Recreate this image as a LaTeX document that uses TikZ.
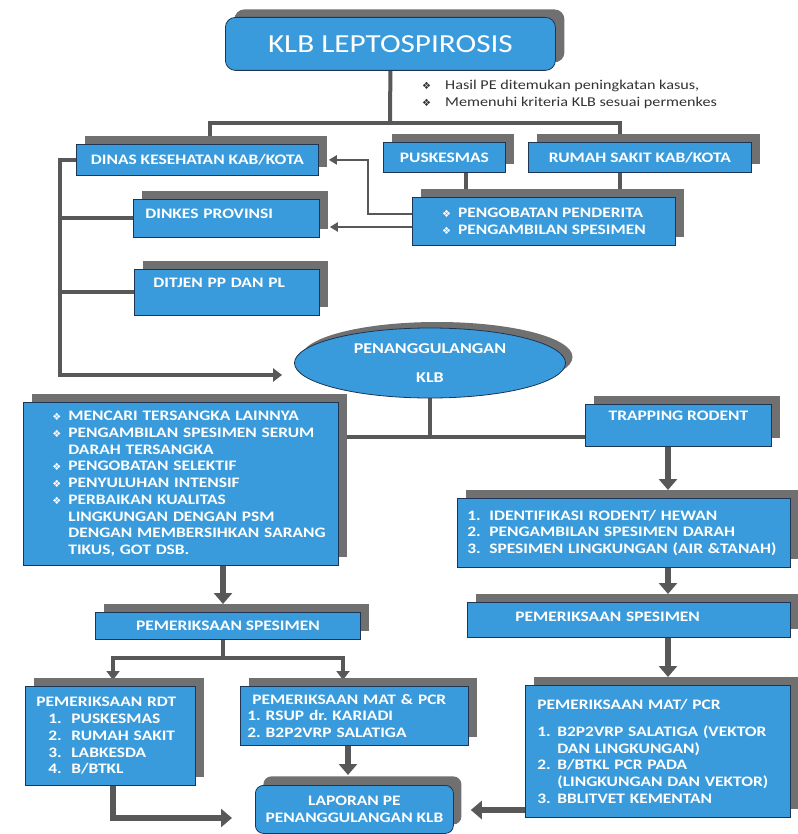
\documentclass[tikz,border=0pt]{standalone}
\usepackage{fontspec}
\setmainfont{Carlito}[FakeStretch=1.2]
\newfontfamily\dingfont{DejaVu Sans}
\usetikzlibrary{shapes.geometric,shadows,arrows.meta,calc,backgrounds}

\definecolor{boxblue}{RGB}{57,155,219}
\definecolor{boxline}{RGB}{30,52,84}
\definecolor{shadowgray}{RGB}{112,112,112}
\definecolor{linegray}{RGB}{88,88,88}
\definecolor{textgray}{RGB}{50,50,50}

\newcommand{\bul}[1][16pt]{\makebox[#1][l]{\dingfont\fontsize{10}{10}\selectfont\raisebox{.3pt}{❖}}}
\newcommand{\itemno}[2][20pt]{\makebox[#1][l]{#2.}}
\newcommand{\ind}{\hspace*{23pt}}
\frenchspacing

\begin{document}
\begin{tikzpicture}[x=1pt,y=-1pt,
  base/.style={draw=boxline,line width=.8pt,fill=boxblue,text=white,anchor=north west,
    inner sep=4pt,font=\fontsize{14.5}{16.7}\selectfont\bfseries},
  box/.style={base,drop shadow={shadow xshift=9pt,shadow yshift=8pt,fill=shadowgray,opacity=1}},
  listbox/.style={box,align=left},
  oval/.style={ellipse,draw=boxline,line width=.8pt,fill=boxblue,text=white,inner sep=0,
    align=center,font=\fontsize{15}{16}\selectfont\bfseries,
    drop shadow={shadow xshift=7pt,shadow yshift=6pt,fill=shadowgray,opacity=1}},
  conn/.style={draw=linegray,line width=4pt},
  thinarrow/.style={draw=linegray,line width=2.5pt,-{Triangle[width=9pt,length=8pt]}},
  midarrow/.style={conn,-{Triangle[width=13pt,length=9pt]}},
  bigarrow/.style={draw=linegray,line width=5.5pt,-{Triangle[width=18pt,length=11pt]}}]

\useasboundingbox (0,0) rectangle (797,834);

\node[box,rounded corners=10pt,minimum width=330pt,minimum height=53pt,
  font=\fontsize{26}{28}\selectfont] (klb) at (225,17) {KLB LEPTOSPIROSIS};
\node[anchor=north west,inner sep=0,align=left,text=textgray,
  font=\fontsize{13.5}{17}\selectfont] (hasil) at (422,80)
  {\bul[23pt]Hasil PE ditemukan peningkatan kasus,\\\bul[23pt]Memenuhi kriteria KLB sesuai permenkes};

\node[box,minimum width=242pt,minimum height=31pt] (dinas) at (76,144) {DINAS KESEHATAN KAB/KOTA};
\node[box,minimum width=122pt,minimum height=30pt] (pusk) at (383,142) {PUSKESMAS};
\node[box,minimum width=223pt,minimum height=30pt] (rs) at (528,142) {RUMAH SAKIT KAB/KOTA};
\node[listbox,minimum width=263pt,minimum height=48pt] (obat) at (412,197)
  {\bul PENGOBATAN PENDERITA\\\bul PENGAMBILAN SPESIMEN};
\node[listbox,inner xsep=12pt,text width=162pt,text height=15pt,text depth=15pt] (dinkes) at (133,199) {DINKES PROVINSI};
\node[listbox,inner xsep=19pt,text width=147pt,text height=14pt,text depth=24pt] (ditjen) at (134,269) {DITJEN PP DAN PL};

\node[oval,minimum width=271pt,minimum height=70pt] (pen) at (430,363) {PENANGGULANGAN\\[13pt]KLB};

\node[listbox,inner xsep=6pt,text width=303pt,minimum height=163pt] (tindak) at (23,402)
  {\ind\bul MENCARI TERSANGKA LAINNYA\\
  \ind\bul PENGAMBILAN SPESIMEN SERUM\\
  \ind\hspace*{16pt}DARAH TERSANGKA\\
  \ind\bul PENGOBATAN SELEKTIF\\
  \ind\bul PENYULUHAN INTENSIF\\
  \ind\bul PERBAIKAN KUALITAS\\
  \ind\hspace*{16pt}LINGKUNGAN DENGAN PSM\\
  \ind\hspace*{16pt}DENGAN MEMBERSIHKAN SARANG\\
  \ind\hspace*{16pt}TIKUS, GOT DSB.};
\node[box,minimum width=186pt,text height=12pt,text depth=22pt] (trap) at (585,404) {TRAPPING RODENT};
\node[listbox,inner xsep=10pt,text width=313pt,minimum height=69pt] (ident) at (457,498)
  {\itemno[22pt]{1}IDENTIFIKASI RODENT/ HEWAN\\
  \itemno[22pt]{2}PENGAMBILAN SPESIMEN DARAH\\
  \itemno[22pt]{3}SPESIMEN LINGKUNGAN (AIR \&TANAH)};
\node[listbox,inner xsep=48pt,text width=227pt,text height=15pt,text depth=12pt] (periksaR) at (467,602) {PEMERIKSAAN SPESIMEN};
\node[listbox,inner xsep=12pt,text width=241pt,minimum height=132pt] (matR) at (525,685)
  {PEMERIKSAAN MAT/ PCR\\[10pt]
  \itemno{1}B2P2VRP SALATIGA (VEKTOR\\
  \hspace*{20pt}DAN LINGKUNGAN)\\
  \itemno{2}B/BTKL PCR PADA\\
  \hspace*{20pt}(LINGKUNGAN DAN VEKTOR)\\
  \itemno{3}BBLITVET KEMENTAN};

\node[box,minimum width=265pt,minimum height=27pt] (periksaL) at (95,612) {PEMERIKSAAN SPESIMEN};
\node[listbox,inner xsep=11pt,text width=148pt,minimum height=99pt] (rdt) at (25,686)
  {PEMERIKSAAN RDT\\
  \hspace*{12pt}\itemno[23pt]{1}PUSKESMAS\\
  \hspace*{12pt}\itemno[23pt]{2}RUMAH SAKIT\\
  \hspace*{12pt}\itemno[23pt]{3}LABKESDA\\
  \hspace*{12pt}\itemno[23pt]{4}B/BTKL};
\node[listbox,inner xsep=7pt,text width=214pt,minimum height=59pt] (matL) at (240,686)
  {\hspace*{5pt}PEMERIKSAAN MAT \& PCR\\
  1. RSUP dr. KARIADI\\
  2. B2P2VRP SALATIGA};
\node[base,rounded corners=8pt,minimum width=198pt,minimum height=48pt,align=center,
  drop shadow={shadow xshift=8pt,shadow yshift=9pt,fill=shadowgray,opacity=1}] (lapor) at (255,785)
  {LAPORAN PE\\PENANGGULANGAN KLB};

\coordinate (jTop) at (390,123);
\coordinate (jDinas) at (210,123);
\coordinate (jRs) at (620,123);
\coordinate (xP) at (466,0);
\coordinate (bend) at (368,214);
\coordinate (yDk) at (0,227);
\coordinate (spine) at (60,375);
\coordinate (jMid) at (430,437);
\coordinate (xA) at (668,0);
\coordinate (xS) at (223,658);
\coordinate (jRdt) at (113,658);
\coordinate (jMat) at (343,658);
\coordinate (xM) at (348,0);
\coordinate (yQ) at (0,818);
\coordinate (yR) at (0,810);

\begin{scope}[on background layer]
\draw[conn] (klb.south) -- (jTop);
\draw[conn] (dinas.north -| jDinas) -- (jDinas) -- (jRs) -- (rs.north -| jRs);
\draw[conn] (pusk.south -| xP) -- (obat.north -| xP);
\draw[conn] (rs.south -| jRs) -- (obat.north -| jRs);
\draw[thinarrow] (obat.west |- bend) -- (bend) |- ($(dinas.east)+(10,0)$);
\draw[thinarrow] (obat.west |- yDk) -- ($(dinkes.east |- yDk)+(10,0)$);

\draw[midarrow] (dinas.west) -| (spine) -- ($(pen.west |- spine)+(-12,0)$);
\draw[conn] (spine |- dinkes.west) -- (dinkes.west);
\draw[conn] (spine |- ditjen.west) -- (ditjen.west);

\draw[conn] (pen.south) -- (jMid);
\draw[conn] (tindak.east |- jMid) -- (trap.west |- jMid);
\draw[bigarrow] (trap.south -| xA) -- ($(ident.north -| xA)+(0,-8)$);
\draw[bigarrow] (ident.south -| xA) -- ($(periksaR.north -| xA)+(0,-8)$);
\draw[bigarrow] (periksaR.south -| xA) -- ($(matR.north -| xA)+(0,-8)$);

\draw[bigarrow] (tindak.south -| xS) -- ($(periksaL.north -| xS)+(0,-8)$);
\draw[conn] (periksaL.south -| xS) -- (xS);
\draw[midarrow] (xS) -- (jRdt) -- ($(rdt.north -| jRdt)+(0,-6)$);
\draw[midarrow] (xS) -- (jMat) -- ($(matL.north -| jMat)+(0,-6)$);
\draw[bigarrow] (matL.south -| xM) -- ($(lapor.north -| xM)+(0,-10)$);
\draw[bigarrow] (rdt.south -| jRdt) |- ($(lapor.west |- yQ)+(-23,0)$);
\draw[bigarrow] (matR.west |- yR) -- ($(lapor.east |- yR)+(17,0)$);
\end{scope}

\end{tikzpicture}
\end{document}
